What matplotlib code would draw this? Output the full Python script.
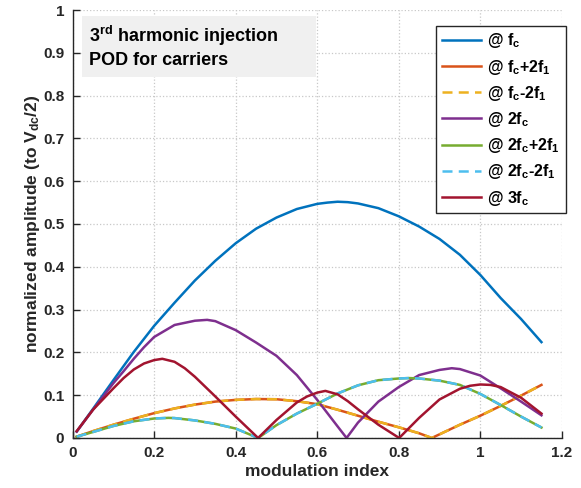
import matplotlib
matplotlib.use("Agg")
import matplotlib.pyplot as plt
from matplotlib.patches import Rectangle

plt.rcParams['font.family'] = ['Liberation Sans', 'DejaVu Sans']
plt.rcParams['font.weight'] = 'bold'
plt.rcParams['mathtext.fontset'] = 'custom'
plt.rcParams['mathtext.rm'] = 'Liberation Sans:bold'
plt.rcParams['mathtext.bf'] = 'Liberation Sans:bold'
plt.rcParams['mathtext.it'] = 'Liberation Sans:bold'

# ---- data ----
fc_x = [0.01, 0.05, 0.1, 0.15, 0.2, 0.25, 0.3, 0.35, 0.4, 0.45, 0.5, 0.55, 0.6, 0.625,
        0.65, 0.675, 0.7, 0.75, 0.8, 0.85, 0.9, 0.95, 1.0, 1.05, 1.1, 1.15]
fc_y = [0.015, 0.068, 0.135, 0.201, 0.262, 0.316, 0.368, 0.414, 0.455, 0.489, 0.515,
        0.535, 0.547, 0.550, 0.552, 0.551, 0.548, 0.537, 0.518, 0.494, 0.465, 0.428,
        0.381, 0.327, 0.278, 0.224]

sb1_x = [0.01, 0.05, 0.1, 0.15, 0.2, 0.25, 0.3, 0.35, 0.4, 0.45, 0.5, 0.55, 0.6, 0.65,
         0.7, 0.75, 0.8, 0.85, 0.881, 0.95, 1.0, 1.05, 1.1, 1.15]
fc_p2f1_y = [0.003, 0.016, 0.031, 0.045, 0.058, 0.069, 0.078, 0.085, 0.089, 0.091, 0.0905,
             0.086, 0.079, 0.066, 0.052, 0.038, 0.025, 0.011, 0.0, 0.031, 0.052, 0.075,
             0.099, 0.124]
fc_m2f1_y = [0.003, 0.016, 0.031, 0.045, 0.058, 0.069, 0.078, 0.085, 0.089, 0.091, 0.0905,
             0.086, 0.079, 0.066, 0.052, 0.038, 0.025, 0.011, 0.0, 0.031, 0.052, 0.075,
             0.099, 0.124]

c2_x = [0.01, 0.05, 0.1, 0.125, 0.15, 0.175, 0.2, 0.25, 0.3, 0.33, 0.35, 0.4, 0.45, 0.5,
        0.55, 0.6, 0.65, 0.672, 0.7, 0.75, 0.8, 0.85, 0.9, 0.93, 0.95, 1.0, 1.05, 1.1, 1.15]
c2_y = [0.015, 0.066, 0.128, 0.156, 0.185, 0.212, 0.236, 0.264, 0.274, 0.276, 0.273,
        0.252, 0.223, 0.192, 0.147, 0.089, 0.027, 0.0, 0.036, 0.085, 0.119, 0.147, 0.159,
        0.163, 0.161, 0.146, 0.116, 0.085, 0.053]

sb2_x = [0.01, 0.05, 0.1, 0.15, 0.2, 0.235, 0.25, 0.3, 0.35, 0.4, 0.455, 0.5, 0.55, 0.6,
         0.65, 0.7, 0.75, 0.8, 0.825, 0.85, 0.9, 0.95, 1.0, 1.05, 1.1, 1.15]
c2_p2f1_y = [0.003, 0.014, 0.028, 0.039, 0.0455, 0.047, 0.0465, 0.041, 0.033, 0.022, 0.0,
             0.030, 0.057, 0.080, 0.104, 0.123, 0.135, 0.139, 0.140, 0.139, 0.134, 0.124,
             0.103, 0.077, 0.050, 0.0245]
c2_m2f1_y = [0.003, 0.014, 0.028, 0.039, 0.0455, 0.047, 0.0465, 0.041, 0.033, 0.022, 0.0,
             0.030, 0.057, 0.080, 0.104, 0.123, 0.135, 0.139, 0.140, 0.139, 0.134, 0.124,
             0.103, 0.077, 0.050, 0.0245]

c3_x = [0.01, 0.05, 0.1, 0.125, 0.15, 0.175, 0.2, 0.22, 0.25, 0.275, 0.3, 0.325, 0.35,
        0.4, 0.455, 0.5, 0.55, 0.575, 0.6, 0.62, 0.65, 0.675, 0.7, 0.75, 0.801, 0.85,
        0.9, 0.95, 0.975, 1.0, 1.025, 1.05, 1.1, 1.15]
c3_y = [0.016, 0.066, 0.116, 0.140, 0.160, 0.174, 0.182, 0.185, 0.178, 0.163, 0.143,
        0.120, 0.097, 0.050, 0.0, 0.042, 0.083, 0.097, 0.106, 0.110, 0.102, 0.086, 0.067,
        0.031, 0.0, 0.047, 0.090, 0.115, 0.122, 0.125, 0.124, 0.119, 0.094, 0.057]

labels = ['@ f$_c$', '@ f$_c$+2f$_1$', '@ f$_c$-2f$_1$', '@ 2f$_c$',
          '@ 2f$_c$+2f$_1$', '@ 2f$_c$-2f$_1$', '@ 3f$_c$']
xticks = [0, 0.2, 0.4, 0.6, 0.8, 1.0, 1.2]
xticklabels = ['0', '0.2', '0.4', '0.6', '0.8', '1', '1.2']
yticks = [0, 0.1, 0.2, 0.3, 0.4, 0.5, 0.6, 0.7, 0.8, 0.9, 1.0]
yticklabels = ['0', '0.1', '0.2', '0.3', '0.4', '0.5', '0.6', '0.7', '0.8', '0.9', '1']

colors = ['#0072BD', '#D95319', '#EDB120', '#7E2F8E', '#77AC30', '#4DBEEE', '#A2142F']

fig = plt.figure(figsize=(5.81, 4.88), dpi=100)
ax = fig.add_axes([0.125, 0.1025, 0.842, 0.877])

lw = 1.8
dash = (4, 2.5)
h = []
h += ax.plot(fc_x, fc_y, color=colors[0], lw=lw, label=labels[0])
h += ax.plot(sb1_x, fc_p2f1_y, color=colors[1], lw=lw, label=labels[1])
h += ax.plot(sb1_x, fc_m2f1_y, color=colors[2], lw=lw, dashes=dash, label=labels[2])
h += ax.plot(c2_x, c2_y, color=colors[3], lw=lw, label=labels[3])
h += ax.plot(sb2_x, c2_p2f1_y, color=colors[4], lw=lw, label=labels[4])
h += ax.plot(sb2_x, c2_m2f1_y, color=colors[5], lw=lw, dashes=dash, label=labels[5])
h += ax.plot(c3_x, c3_y, color=colors[6], lw=lw, label=labels[6])

ax.set_xlim(0, 1.2)
ax.set_ylim(0, 1)
ax.set_xticks(xticks)
ax.set_xticklabels(xticklabels)
ax.set_yticks(yticks)
ax.set_yticklabels(yticklabels)
for s in ['top', 'right']:
    ax.spines[s].set_visible(False)
for s in ['left', 'bottom']:
    ax.spines[s].set_color('#262626')
    ax.spines[s].set_linewidth(1.0)
ax.tick_params(direction='in', length=5, width=1, colors='#262626', labelsize=11, pad=6)
for t in ax.get_xticklabels() + ax.get_yticklabels():
    t.set_fontweight('bold')
ax.grid(True, color='#c8c8c8', linestyle=':', linewidth=0.9)
ax.set_axisbelow(True)

ax.set_xlabel('modulation index', fontsize=12.5, fontweight='bold', color='#262626', labelpad=3)
ax.set_ylabel('normalized amplitude (to V$_{dc}$/2)', fontsize=12.5, fontweight='bold',
              color='#262626', labelpad=1)

# annotation box
ax.add_patch(Rectangle((0.019, 0.8436), 0.478, 0.143, transform=ax.transAxes,
                       facecolor='#f0f0f0', edgecolor='none', zorder=3, clip_on=False))
ax.text(0.033, 0.915, '3$^{rd}$ harmonic injection\nPOD for carriers', transform=ax.transAxes,
        fontsize=13, fontweight='bold', color='black', va='center', ha='left',
        linespacing=1.25, zorder=4)

leg = ax.legend(handles=h, loc='upper right', bbox_to_anchor=(1.008, 0.963),
                borderaxespad=0, fontsize=11.5, frameon=True, fancybox=False,
                edgecolor='#262626', framealpha=1, handlelength=2.45, labelspacing=0.45,
                handletextpad=0.4, borderpad=0.35)
leg.get_frame().set_linewidth(1.0)
for t in leg.get_texts():
    t.set_fontweight('bold')

fig.savefig('out.png', dpi=100)
